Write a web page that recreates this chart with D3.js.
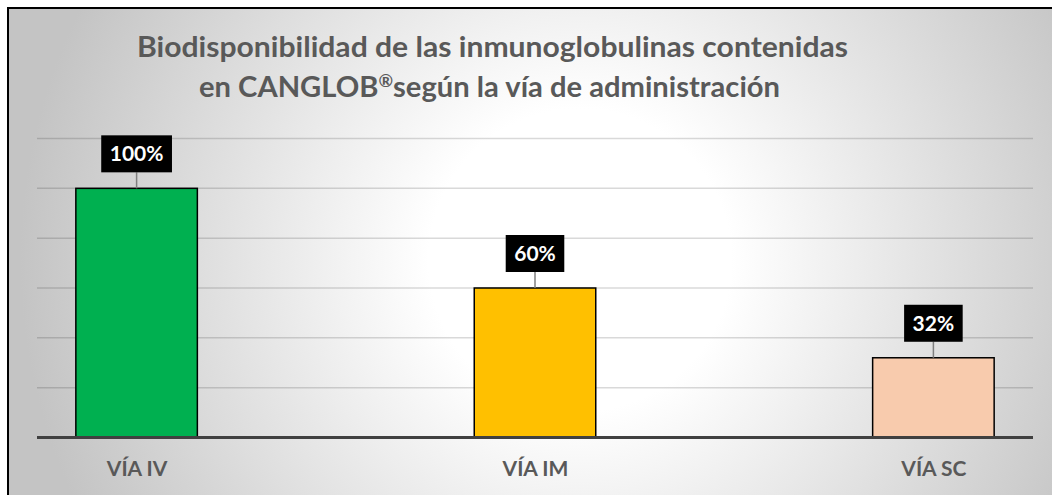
<!DOCTYPE html>
<html>
<head>
<meta charset="utf-8">
<script src="https://cdn.jsdelivr.net/npm/d3@7"></script>
<style>
    html, body { margin: 0; padding: 0; background: #fff; }
    svg { display: block; }
    text { font-family: Lato, "Open Sans", sans-serif; font-weight: bold; }
</style>
</head>
<body>
<svg id="chart" width="1052" height="495"></svg>
<script>
/***************************************************************
    Data
****************************************************************/
const categories = ["VÍA IV", "VÍA IM", "VÍA SC"];
const values = [1.00, 0.60, 0.32];
const gridTicks = [0.2, 0.4, 0.6, 0.8, 1.0, 1.2];
const titleLine1 = "Biodisponibilidad de las inmunoglobulinas contenidas";
const titleLine2 = ["en CANGLOB", "®", "según la vía de administración"];

const barColors = ["#00b050", "#ffc000", "#f8cbad"];

/***************************************************************
    Drawing
****************************************************************/
window.addEventListener('load', () => { drawChart() });

function drawChart() {
    const svg = d3.select("#chart");
    const plot = { left: 37, right: 1033, top: 138.5, bottom: 437.5 };

    // chart area background, radial from white centre to grey edges
    const grad = svg.append("defs").append("radialGradient")
        .attr("id", "bg").attr("gradientUnits", "userSpaceOnUse")
        .attr("cx", 580).attr("cy", 260).attr("r", 560);
    grad.append("stop").attr("offset", 0.27).attr("stop-color", "#ffffff");
    grad.append("stop").attr("offset", 1).attr("stop-color", "#c4c4c4");

    svg.append("rect")
        .attr("x", 8).attr("y", 8).attr("width", 1400).attr("height", 700)
        .attr("fill", "url(#bg)").attr("stroke", "#000").attr("stroke-width", 2);

    var x = d3.scalePoint().domain(categories).range([plot.left, plot.right]).padding(0.25);
    var y = d3.scaleLinear().domain([0, 1.2]).range([plot.bottom, plot.top]);
    var barW = x.step() * 0.305;

    // gridlines
    svg.append("g").selectAll("line").data(gridTicks).enter().append("line")
        .attr("x1", plot.left).attr("x2", plot.right)
        .attr("y1", d => y(d)).attr("y2", d => y(d))
        .attr("stroke", "#000").attr("stroke-opacity", 0.15).attr("stroke-width", 1.5);

    // bars
    svg.append("g").selectAll("rect").data(values).enter().append("rect")
        .attr("x", (d, i) => x(categories[i]) - barW / 2)
        .attr("y", d => y(d))
        .attr("width", barW)
        .attr("height", d => y(0) - y(d))
        .attr("fill", (d, i) => barColors[i])
        .attr("stroke", "#000").attr("stroke-width", 1.5);

    // baseline / category axis
    var xAxis = svg.append("g").attr("transform", "translate(0," + y(0) + ")")
        .call(d3.axisBottom(x).tickSize(0).tickPadding(24));
    xAxis.select(".domain").attr("d", "M" + plot.left + ",0H" + plot.right)
        .attr("stroke", "#404040").attr("stroke-width", 3);
    xAxis.selectAll("text")
        .attr("font-size", 21).attr("fill", "#595959")
        .style("font-family", "Lato, 'Open Sans', sans-serif").style("font-weight", "bold");

    // data labels: black boxes with leader lines
    var fmt = d3.format(".0%");
    var labels = svg.append("g").selectAll("g").data(values).enter().append("g")
        .attr("transform", (d, i) => "translate(" + x(categories[i]) + "," + y(d) + ")");
    labels.append("line")
        .attr("x1", 0).attr("x2", 0).attr("y1", 0).attr("y2", -16)
        .attr("stroke", "#7f7f7f").attr("stroke-width", 1.5);
    labels.append("rect").attr("class", "lbox").attr("fill", "#000");
    labels.append("text")
        .attr("text-anchor", "middle").attr("y", -34 + 7)
        .attr("fill", "#fff").attr("font-size", 21)
        .text(d => fmt(d));
    labels.each(function () {
        let g = d3.select(this);
        let w = g.select("text").node().getComputedTextLength();
        g.select("rect").attr("x", -w / 2 - 8.5).attr("width", w + 17)
            .attr("y", -16 - 37).attr("height", 37);
    });

    // title
    var title = svg.append("g").attr("fill", "#595959");
    title.append("text")
        .attr("x", 492.5).attr("y", 57).attr("text-anchor", "middle")
        .attr("font-size", 28).attr("textLength", 711).attr("lengthAdjust", "spacingAndGlyphs")
        .text(titleLine1);
    var t2 = title.append("text")
        .attr("x", 489.5).attr("y", 97).attr("text-anchor", "middle")
        .attr("font-size", 28).attr("textLength", 581).attr("lengthAdjust", "spacingAndGlyphs");
    t2.append("tspan").text(titleLine2[0]);
    t2.append("tspan").attr("dy", -10).attr("font-size", 17).text(titleLine2[1]);
    t2.append("tspan").attr("dy", 10).text(titleLine2[2]);
}
</script>
</body>
</html>
